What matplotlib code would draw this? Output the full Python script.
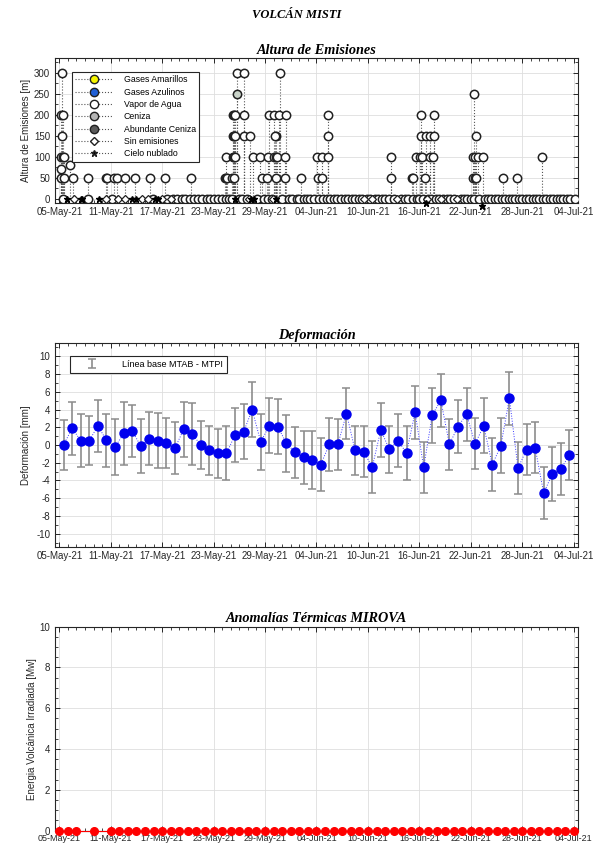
import numpy as np
import pandas as pd
import matplotlib
matplotlib.use("Agg")
import matplotlib.pyplot as plt
import matplotlib.dates as mdates
from matplotlib.lines import Line2D
from matplotlib.ticker import MultipleLocator

plt.rcParams['font.family'] = ['Liberation Sans', 'DejaVu Sans']
plt.rcParams['axes.unicode_minus'] = False

start = pd.Timestamp('2021-05-05')
x_min = start - pd.Timedelta(hours=12)
x_max = pd.Timestamp('2021-07-04 12:00')
tick_dates = pd.date_range('2021-05-05', '2021-07-04', freq='6D')

# --- Altura de Emisiones: observation time (days after 05-May-21), height [m], type
em_day = [0.2, 0.3, 0.4, 0.3, 0.2, 0.4, 0.5, 0.2, 0.2, 0.5,
          1.2, 1.6, 3.4, 5.4, 5.6, 6.4, 6.7, 7.7, 8.8, 10.6, 12.3, 15.4,
          19.3, 19.5, 19.6, 19.5, 20.2, 20.4, 20.3, 20.4, 20.5,
          20.3, 20.4, 20.5, 20.3, 20.4, 20.5, 20.7, 20.7,
          21.6, 21.6, 21.6, 22.2, 22.6, 23.4, 23.6, 24.2, 24.3, 24.5,
          25.1, 25.3, 25.4, 25.1, 25.6, 25.3, 25.2, 25.3, 25.7, 26.3, 26.3, 26.5, 28.2,
          30.1, 30.6, 30.2, 30.6, 31.3, 31.3, 31.3,
          38.7, 38.7,
          41.1, 41.3, 41.6, 42.1, 42.3, 42.6, 42.2, 42.2, 42.8, 43.2, 43.6, 43.2, 43.7, 43.7,
          48.3, 48.5, 48.6, 48.3, 48.5, 48.4, 48.65, 48.8, 49.4,
          51.7, 53.4, 56.3]
em_height = [200, 300, 200, 150, 100, 100, 100, 70, 50, 50,
             80, 50, 50, 50, 50, 50, 50, 50, 50, 50, 50, 50,
             50, 50, 50, 100, 50, 50, 100, 100, 100,
             150, 150, 150, 200, 200, 200, 250, 300,
             300, 200, 150, 150, 100, 100, 50, 50, 100, 200,
             100, 100, 100, 200, 200, 150, 150, 50, 300, 100, 50, 200, 50,
             100, 100, 50, 50, 100, 150, 200,
             100, 50,
             50, 50, 100, 100, 100, 50, 150, 200, 150, 100, 100, 150, 150, 200,
             50, 50, 50, 100, 100, 250, 150, 100, 100,
             50, 50, 100]
em_type = ['v'] * len(em_day)
em_type[37] = 'c'  # ceniza at 250 m

# zero-height observations
vapor0_day = [0.4, 3.4, 6.2, 10.9, 12.6, 13.3, 13.7, 14.3, 14.7, 15.2, 15.7, 16.2,
              16.6, 17.2, 17.6, 18.1, 18.5, 19.0, 19.4, 19.8, 20.2, 21.0, 21.3,
              21.9, 23.1, 23.9, 24.4, 24.8, 26.0, 26.8, 27.2, 27.7, 28.0, 28.5,
              28.9, 29.3, 29.7, 30.3, 30.8, 31.2, 31.6, 32.0, 32.4, 32.9, 33.3,
              33.7, 34.1, 34.5, 35.0, 35.3, 35.9, 36.2, 36.8, 37.2, 37.6, 38.0,
              38.4, 39.0, 39.8, 40.3, 40.7, 41.2, 41.7, 42.0, 42.4, 43.0, 43.4,
              43.9, 44.3, 44.8, 45.2, 45.6, 46.0, 46.8, 47.2, 47.6, 48.0, 48.4,
              48.9, 49.6, 50.0, 50.4, 50.8, 51.2, 51.6, 52.0, 52.4, 52.8, 53.2,
              53.6, 54.0, 54.4, 54.8, 55.2, 55.6, 56.0, 56.4, 56.8, 57.2, 57.6,
              58.0, 58.4, 58.8, 59.2, 59.6, 60.1]
sin_day = [1.7, 5.4, 6.9, 7.7, 9.6, 10.4, 12.0, 13.0, 22.1, 24.9, 35.6, 36.5,
           39.4, 42.9, 44.5, 46.4]
nublado_day = [0.9, 2.5, 2.7, 4.6, 8.5, 9.0, 11.2, 11.5, 20.5, 22.4, 22.7, 25.3,
               42.8, 49.3]
nublado_height = [0, 0, 0, 0, 0, 0, 0, 0, 0, 0, 0, 0, -10, -17]

# --- Deformacion (daily, MTAB - MTPI baseline) [mm]
def_val = [0.0, 1.9, 0.5, 0.5, 2.15, 0.55, -0.25, 1.3, 1.6, -0.1,
           0.7, 0.5, 0.2, -0.35, 1.75, 1.25, 0.0, -0.6, -0.95, -0.95,
           1.13, 1.5, 3.96, 0.34, 2.19, 2.04, 0.19, -0.83, -1.4, -1.7,
           -2.2, 0.08, 0.08, 3.55, -0.6, -0.75, -2.5, 1.7, -0.5, 0.5,
           -0.9, 3.7, -2.53, 3.36, 5.06, 0.08, 2.08, 3.47, 0.15, 2.15,
           -2.2, -0.1, 5.28, -2.6, -0.53, -0.3, -5.43, -3.25, -2.7, -1.13]
def_err = [2.8, 3.0, 3.0, 2.8, 2.9, 3.0, 3.15, 3.5, 2.9, 3.0,
           3.0, 3.1, 2.8, 2.95, 3.05, 3.45, 2.7, 2.8, 2.75, 3.05,
           3.1, 3.1, 3.1, 3.2, 3.1, 3.1, 3.2, 2.9, 3.0, 3.3,
           3.0, 3.0, 2.9, 2.9, 2.75, 2.9, 2.9, 3.0, 2.7, 3.0,
           3.05, 3.0, 2.9, 3.1, 3.0, 2.9, 3.0, 3.0, 2.9, 3.1,
           2.95, 3.1, 3.0, 2.95, 2.9, 2.9, 2.9, 3.05, 2.96, 2.83]
def_dates = pd.date_range('2021-05-05 12:00', periods=len(def_val), freq='D')

# --- Anomalias termicas MIROVA [MW]
therm_dates = pd.date_range('2021-05-05', '2021-07-04', freq='D').drop(
    [pd.Timestamp('2021-05-08'), pd.Timestamp('2021-05-10')])
therm_val = [0.0] * len(therm_dates)


def to_dates(days):
    return [start + pd.Timedelta(days=d) for d in days]


def style_axis(ax, labelsize=7, pad=3):
    ax.set_xlim(x_min, x_max)
    ax.set_xticks(tick_dates)
    ax.xaxis.set_major_formatter(mdates.DateFormatter('%d-%b-%y'))
    ax.xaxis.set_minor_locator(mdates.DayLocator())
    ax.tick_params(which='both', direction='in', top=True, right=True,
                   colors='#262626', labelsize=labelsize)
    ax.tick_params(axis='x', pad=pad)
    ax.tick_params(which='major', length=3.5, width=0.7)
    ax.tick_params(which='minor', length=2, width=0.6)
    ax.grid(True, which='major', color='#dedede', lw=0.6)
    ax.set_axisbelow(True)
    for s in ax.spines.values():
        s.set_color('#262626')
        s.set_linewidth(0.8)


title_font = dict(family='Liberation Serif', weight='bold', style='italic')

fig = plt.figure(figsize=(5.93, 8.43), dpi=100)
fig.text(0.5, 1 - 15 / 843, 'VOLCÁN MISTI', ha='center', va='center',
         fontsize=9, **title_font)

# ---------------- Altura de Emisiones ----------------
ax1 = fig.add_axes([0.0927, 0.7592, 0.882, 0.172])
em_dates = to_dates(em_day)
ax1.vlines(em_dates, 0, em_height, colors='#555555', linestyles=':', lw=0.8, zorder=2)
ax1.vlines(to_dates(vapor0_day), -3, 0, colors='#555555', linestyles=':', lw=0.8)
face = {'v': 'white', 'c': '#c9d3c9'}
for d, h, t in zip(em_dates, em_height, em_type):
    ax1.plot(d, h, 'o', ms=6, mfc=face[t], mec='#202020', mew=1.1, zorder=3)
ax1.plot(to_dates(vapor0_day), [0] * len(vapor0_day), 'o', ms=6, mfc='white',
         mec='#202020', mew=1.1, ls='none', zorder=3)
ax1.plot(to_dates(sin_day), [0] * len(sin_day), 'D', ms=4.5, mfc='white',
         mec='#202020', mew=0.9, ls='none', zorder=4)
ax1.plot(to_dates(nublado_day), nublado_height, '*', ms=5, color='black',
         ls='none', zorder=5, clip_on=False)
ax1.set_ylim(-10, 335)
ax1.set_yticks(np.arange(0, 301, 50))
ax1.yaxis.set_minor_locator(MultipleLocator(25))
style_axis(ax1)
ax1.set_ylabel('Altura de Emisiones [m]', fontsize=7, color='#262626', labelpad=2)
ax1.set_title('Altura de Emisiones', fontsize=10.3, pad=3, **title_font)

leg_items = [('Gases Amarillos', 'o', '#f5f500'),
             ('Gases Azulinos', 'o', '#1f5fd6'),
             ('Vapor de Agua', 'o', 'white'),
             ('Ceniza', 'o', '#b4b4b4'),
             ('Abundante Ceniza', 'o', '#5a5a5a'),
             ('Sin emisiones', 'D', 'white'),
             ('Cielo nublado', '*', 'black')]
handles = []
for lab, mk, fc in leg_items:
    ms = 4.5 if mk == 'D' else (5 if mk == '*' else 6)
    handles.append(Line2D([], [], ls=':', color='#555555', lw=0.8, marker=mk,
                          ms=ms, mfc=fc, mec='#202020', mew=1.0, label=lab))
ax1.legend(handles=handles, loc='upper left', bbox_to_anchor=(0.024, 0.935),
           fontsize=6.3, frameon=True, fancybox=False, edgecolor='#262626',
           framealpha=1, handlelength=4.2, labelspacing=0.38, borderpad=0.4,
           handletextpad=1.3).get_frame().set_linewidth(0.8)

# ---------------- Deformacion ----------------
ax2 = fig.add_axes([0.0927, 0.3511, 0.882, 0.242])
eb = ax2.errorbar(def_dates, def_val, yerr=def_err, fmt='none', ecolor='#8c8c8c',
                  elinewidth=1.2, capsize=3, capthick=1.1, zorder=2,
                  label='Línea base MTAB - MTPI')
ax2.plot(def_dates, def_val, ':', color='#3a3aff', lw=0.7, zorder=3)
ax2.plot(def_dates, def_val, 'o', ms=6.5, color='#0000ee', ls='none', zorder=4)
ax2.set_ylim(-11.5, 11.5)
ax2.set_yticks(np.arange(-10, 11, 2))
ax2.yaxis.set_minor_locator(MultipleLocator(1))
style_axis(ax2)
ax2.set_ylabel('Deformación [mm]', fontsize=7, color='#262626', labelpad=4)
ax2.set_title('Deformación', fontsize=10.3, pad=3, **title_font)
ax2.legend(handles=[eb], loc='upper left', bbox_to_anchor=(0.02, 0.96),
           fontsize=6.5, fancybox=False, edgecolor='#262626', framealpha=1,
           handlelength=4, handletextpad=1.3, borderpad=0.45
           ).get_frame().set_linewidth(0.8)

# ---------------- Anomalias Termicas ----------------
ax3 = fig.add_axes([0.0927, 0.0146, 0.882, 0.2422])
ax3.plot(therm_dates, therm_val, '-', color='#ff0000', lw=0.8, zorder=3, clip_on=False)
ax3.plot(therm_dates, therm_val, 'o', ms=5.5, color='#ff0000', ls='none',
         zorder=4, clip_on=False)
ax3.set_ylim(0, 10)
ax3.set_yticks(np.arange(0, 11, 2))
ax3.yaxis.set_minor_locator(MultipleLocator(0.5))
style_axis(ax3, labelsize=6.5, pad=2.3)
ax3.tick_params(axis='y', labelsize=7)
ax3.set_ylabel('Energia Volcánica Irradiada [Mw]', fontsize=7, color='#262626',
               labelpad=2)
ax3.set_title('Anomalías Térmicas MIROVA', fontsize=10.3, pad=3, **title_font)

fig.savefig('out.png', dpi=100)
